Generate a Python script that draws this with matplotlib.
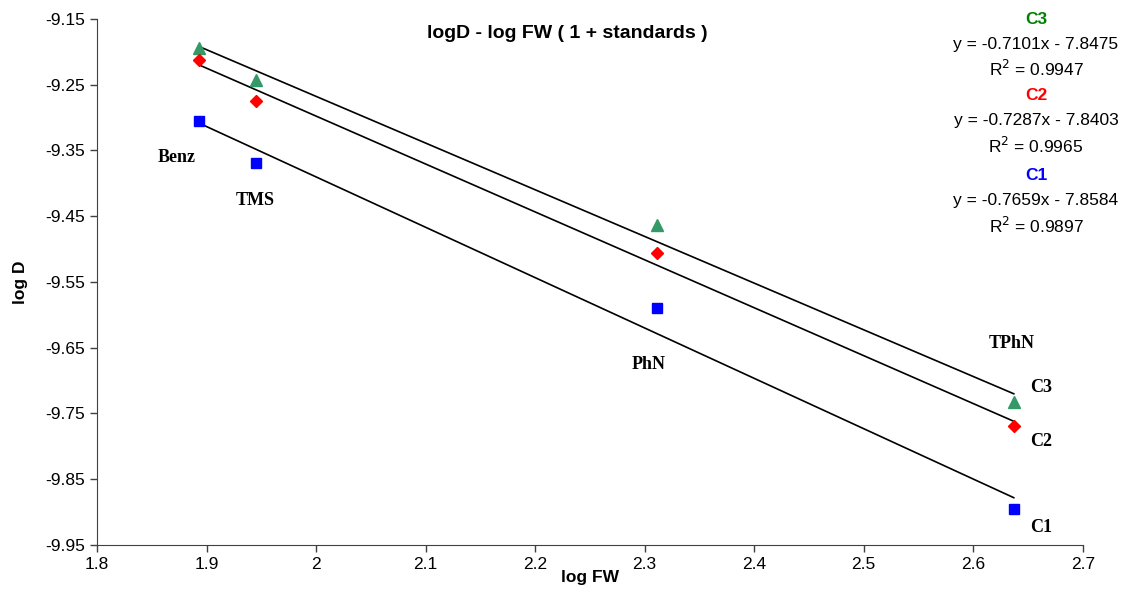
import numpy as np
import matplotlib
matplotlib.use("Agg")
import matplotlib.pyplot as plt

matplotlib.rcParams['font.family'] = ['Liberation Sans', 'DejaVu Sans']

# ── data ──────────────────────────────────────────
log_fw = [1.893, 1.945, 2.311, 2.637]
labels = ["Benz", "TMS", "PhN", "TPhN"]
c1 = [-9.305, -9.369, -9.590, -9.895]
c2 = [-9.212, -9.275, -9.506, -9.769]
c3 = [-9.194, -9.243, -9.463, -9.733]

# trend line coefficients (slope, intercept, R^2) as printed on the chart
fit_c1 = (-0.7659, -7.8584, 0.9897)
fit_c2 = (-0.7287, -7.8403, 0.9965)
fit_c3 = (-0.7101, -7.8475, 0.9947)

fig = plt.figure(figsize=(11.35, 5.9), dpi=100)
ax = fig.add_axes([0.0855, 0.0763, 0.8685, 0.8915])

series = [
    ("C3", c3, fit_c3, "^", "#339966", "#008000"),
    ("C2", c2, fit_c2, "D", "#ff0000", "#ff0000"),
    ("C1", c1, fit_c1, "s", "#0000ff", "#0000ff"),
]

x = np.array(log_fw)
xl = np.array([x.min(), x.max()])
for name, ys, (m, b, r2), mk, col, tcol in series:
    ax.plot(xl, m * xl + b, color="black", lw=1.2, zorder=2)
    ms = 8.5 if mk == "^" else (6.5 if mk == "D" else 7.5)
    ax.plot(x, ys, ls="none", marker=mk, color=col, ms=ms, zorder=3)

ax.set_xlim(1.8, 2.7)
ax.set_ylim(-9.95, -9.15)
ax.set_xticks(np.arange(1.8, 2.71, 0.1))
ax.set_xticklabels(["1.8", "1.9", "2", "2.1", "2.2", "2.3", "2.4", "2.5", "2.6", "2.7"])
ax.set_yticks(np.arange(-9.95, -9.14, 0.1))
ax.set_yticklabels([f"{v:.2f}" for v in np.arange(-9.95, -9.14, 0.1)])
ax.tick_params(direction="out", length=5, width=1, color="#404040", labelsize=12.5)
for s in ["top", "right"]:
    ax.spines[s].set_visible(False)
for s in ["left", "bottom"]:
    ax.spines[s].set_color("#404040")

ax.set_xlabel("log FW", fontsize=12.5, fontweight="bold", labelpad=-1)
ax.set_ylabel("log D", fontsize=12.5, fontweight="bold")
ax.yaxis.set_label_coords(-0.070, 0.5)
fig.text(0.5, 0.944, "logD - log FW ( 1 + standards )", ha="center", va="center",
         fontsize=14, fontweight="bold")

# point labels
tfont = dict(family="Liberation Serif", fontweight="bold", fontsize=13)
ax.text(1.873, -9.361, "Benz", ha="center", va="center", **tfont)
ax.text(1.944, -9.426, "TMS", ha="center", va="center", **tfont)
ax.text(2.304, -9.676, "PhN", ha="center", va="center", **tfont)
ax.text(2.635, -9.643, "TPhN", ha="center", va="center", **tfont)
ax.text(2.662, -9.711, "C3", ha="center", va="center", **tfont)
ax.text(2.662, -9.792, "C2", ha="center", va="center", **tfont)
ax.text(2.662, -9.923, "C1", ha="center", va="center", **tfont)

# equations
ex = 1036 / 1135
for i, (name, ys, (m, b, r2), mk, col, tcol) in enumerate(series):
    top = 571 - i * 77 - (3 if i == 2 else 0)
    fig.text(ex, top / 590, name, ha="center", va="center", color=tcol,
             fontsize=12.5, fontweight="bold")
    fig.text(ex, (top - 25) / 590, f"y = {m:.4f}x - {abs(b):.4f}", ha="center",
             va="center", fontsize=12.5)
    fig.text(ex, (top - 50) / 590, f"R$^2$ = {r2:.4f}", ha="center", va="center",
             fontsize=12.5)

fig.savefig("out.png", dpi=100)
